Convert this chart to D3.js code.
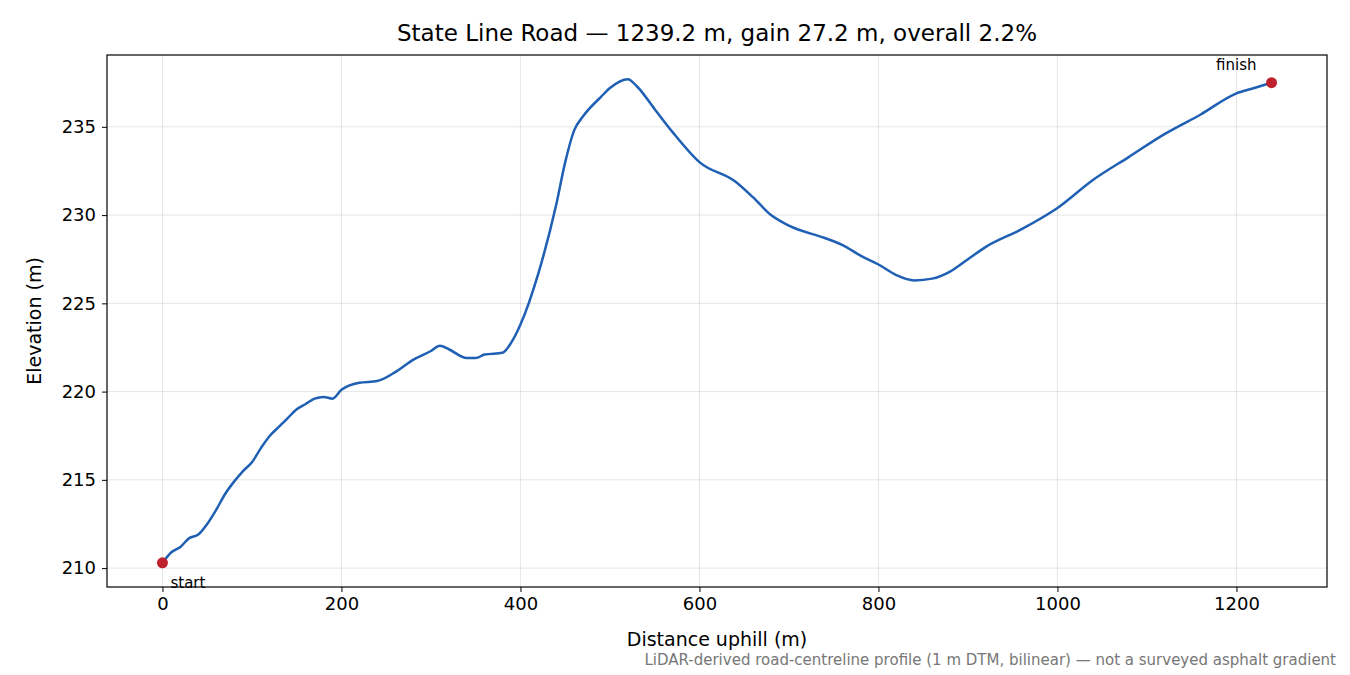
<!DOCTYPE html>
<html><head><meta charset="utf-8">
<script src="https://cdn.jsdelivr.net/npm/d3@7"></script>
<style>body{margin:0;background:#fff}text{font-family:"DejaVu Sans",sans-serif}</style>
</head><body><svg id="c" width="1350" height="675"></svg>
<script>
const distances=[0,10,20,30,40,50,60,70,80,90,100,110,120,130,140,150,160,170,180,190,200,220,240,260,280,300,310,320,340,350,360,380,390,400,420,440,450,460,470,490,500,520,530,550,570,600,640,660,680,700,740,760,780,800,820,840,860,880,900,920,960,1000,1040,1080,1120,1160,1200,1220,1239.2];
const elevations=[210.3,210.9,211.2,211.7,211.9,212.5,213.3,214.2,214.9,215.5,216.0,216.8,217.5,218.0,218.5,219.0,219.3,219.6,219.7,219.6,220.1,220.5,220.6,221.1,221.8,222.3,222.6,222.4,221.9,221.9,222.1,222.2,222.8,223.8,226.7,230.6,233.0,234.8,235.6,236.7,237.2,237.7,237.3,236.0,234.7,233.0,231.9,231.0,230.0,229.4,228.7,228.3,227.7,227.2,226.6,226.3,226.4,226.8,227.5,228.2,229.2,230.4,232.0,233.3,234.6,235.7,236.9,237.2,237.5];
const xTicks=[0,200,400,600,800,1000,1200];
const yTicks=[210,215,220,225,230,235];
const svg=d3.select("#c");
const L=107,R=1327,T=55,B=587;
const x=d3.scaleLinear().domain([-61.96,1301.16]).range([L,R]);
const y=d3.scaleLinear().domain([208.93,239.07]).range([B,T]);
const g=svg.append("g");
g.selectAll(".gx").data(xTicks).join("line").attr("x1",d=>x(d)).attr("x2",d=>x(d)).attr("y1",T).attr("y2",B).attr("stroke","#000").attr("stroke-opacity",0.1);
g.selectAll(".gy").data(yTicks).join("line").attr("y1",d=>y(d)).attr("y2",d=>y(d)).attr("x1",L).attr("x2",R).attr("stroke","#000").attr("stroke-opacity",0.1);
const ax=svg.append("g").attr("transform",`translate(0,${B})`).call(d3.axisBottom(x).tickValues(xTicks).tickSize(5).tickPadding(5).tickFormat(d3.format("d")));
const ay=svg.append("g").attr("transform",`translate(${L},0)`).call(d3.axisLeft(y).tickValues(yTicks).tickSize(5).tickPadding(6).tickFormat(d3.format("d")));
[ax,ay].forEach(a=>{a.select(".domain").remove();a.selectAll("text").attr("font-size",18).attr("fill","#000").style("font-family","DejaVu Sans");});
svg.append("rect").attr("x",L).attr("y",T).attr("width",R-L).attr("height",B-T).attr("fill","none").attr("stroke","#000").attr("stroke-width",1.2);
const data=distances.map((d,i)=>[d,elevations[i]]);
svg.append("path").datum(data).attr("fill","none").attr("stroke","#1f5fb4").attr("stroke-width",2.5)
 .attr("d",d3.line().x(d=>x(d[0])).y(d=>y(d[1])).curve(d3.curveMonotoneX));
const ends=[data[0],data[data.length-1]];
svg.selectAll(".e").data(ends).join("circle").attr("cx",d=>x(d[0])).attr("cy",d=>y(d[1])).attr("r",5.5).attr("fill","#c0212e");
svg.append("text").attr("x",x(0)+8).attr("y",y(elevations[0])+25).attr("font-size",15).text("start");
svg.append("text").attr("x",x(1239.2)-15).attr("y",y(elevations[elevations.length-1])-13).attr("font-size",15).attr("text-anchor","end").text("finish");
svg.append("text").attr("x",(L+R)/2).attr("y",41).attr("text-anchor","middle").attr("font-size",23).text("State Line Road — 1239.2 m, gain 27.2 m, overall 2.2%");
svg.append("text").attr("x",(L+R)/2).attr("y",646).attr("text-anchor","middle").attr("font-size",19).text("Distance uphill (m)");
svg.append("text").attr("transform",`translate(41,${(T+B)/2}) rotate(-90)`).attr("text-anchor","middle").attr("font-size",19).text("Elevation (m)");
svg.append("text").attr("x",1336).attr("y",665).attr("text-anchor","end").attr("font-size",15).attr("fill","#777").text("LiDAR-derived road-centreline profile (1 m DTM, bilinear) — not a surveyed asphalt gradient");
</script></body></html>
